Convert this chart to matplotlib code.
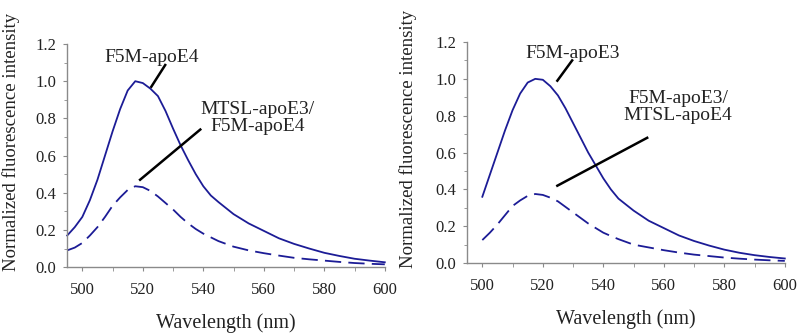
import matplotlib
matplotlib.use("Agg")
import matplotlib.pyplot as plt
from matplotlib.ticker import MultipleLocator

plt.rcParams['font.family'] = ['Liberation Serif', 'DejaVu Serif']

# left panel (F5M-apoE4)
wl_a = [495, 497.5, 500, 502.5, 505, 507.5, 510, 512.5, 515, 517.5, 520, 522.5, 525, 527.5, 530,
        532.5, 535, 537.5, 540, 542.5, 545, 550, 555, 560, 565, 570, 575, 580, 585, 590, 595, 600]
solid_a = [0.17, 0.215, 0.27, 0.36, 0.47, 0.60, 0.73, 0.85, 0.95, 1.00, 0.99, 0.96, 0.92, 0.84, 0.745,
           0.655, 0.575, 0.50, 0.435, 0.385, 0.35, 0.285, 0.235, 0.195, 0.155, 0.125, 0.10, 0.077, 0.06, 0.045, 0.035, 0.026]
dash_a = [0.09, 0.105, 0.13, 0.17, 0.215, 0.27, 0.33, 0.375, 0.415, 0.435, 0.43, 0.41, 0.38, 0.345, 0.31,
          0.27, 0.235, 0.205, 0.18, 0.16, 0.14, 0.11, 0.09, 0.075, 0.062, 0.05, 0.042, 0.035, 0.028, 0.022, 0.018, 0.015]

# right panel (F5M-apoE3)
wl_b = [500, 502.5, 505, 507.5, 510, 512.5, 515, 517.5, 520, 522.5, 525, 527.5, 530, 532.5, 535,
        537.5, 540, 542.5, 545, 550, 555, 560, 565, 570, 575, 580, 585, 590, 595, 600]
solid_b = [0.36, 0.48, 0.60, 0.72, 0.83, 0.92, 0.98, 1.00, 0.995, 0.96, 0.91, 0.84, 0.76, 0.68, 0.60,
           0.53, 0.46, 0.40, 0.35, 0.285, 0.23, 0.19, 0.15, 0.12, 0.095, 0.073, 0.056, 0.043, 0.033, 0.025]
dash_b = [0.125, 0.165, 0.21, 0.26, 0.31, 0.34, 0.365, 0.375, 0.37, 0.355, 0.335, 0.305, 0.275, 0.245, 0.215,
          0.19, 0.165, 0.147, 0.13, 0.10, 0.085, 0.07, 0.057, 0.046, 0.038, 0.03, 0.024, 0.019, 0.015, 0.012]

labels_a = ["F5M-apoE4", "MTSL-apoE3/\nF5M-apoE4"]
labels_b = ["F5M-apoE3", "F5M-apoE3/\nMTSL-apoE4"]

blue = "#1c1c96"
grey = "#8a8a8a"
txt = "#222222"

fig = plt.figure(figsize=(8, 3.36), dpi=100)
ax1 = fig.add_axes([0.084, 0.205, 0.397, 0.664])
ax2 = fig.add_axes([0.584, 0.217, 0.397, 0.658])


def style(ax, lx):
    ax.set_xlim(495, 600)
    ax.set_ylim(0, 1.2)
    ax.xaxis.set_major_locator(MultipleLocator(20))
    ax.xaxis.set_minor_locator(MultipleLocator(10))
    ax.yaxis.set_major_locator(MultipleLocator(0.2))
    ax.yaxis.set_minor_locator(MultipleLocator(0.1))
    ax.yaxis.set_major_formatter(plt.FormatStrFormatter('%.1f'))
    for s in ['top', 'right']:
        ax.spines[s].set_visible(False)
    for s in ['left', 'bottom']:
        ax.spines[s].set_color(grey)
        ax.spines[s].set_linewidth(1.0)
    ax.tick_params(which='both', colors=grey, labelcolor=txt, labelsize=12, length=3, direction='out')
    ax.tick_params(axis='y', which='minor', length=2)
    ax.tick_params(axis='x', pad=8)
    ax.tick_params(axis='y', pad=5)
    ax.set_xlabel("Wavelength (nm)", fontsize=14.5, color=txt, labelpad=11)
    ax.set_ylabel("Normalized fluorescence intensity", fontsize=13.5, color=txt)
    ax.yaxis.set_label_coords(lx, 0.56)


ax1.plot(wl_a, solid_a, color=blue, lw=1.3, clip_on=False)
ax1.plot(wl_a, dash_a, color=blue, lw=1.3, dashes=(9, 4), clip_on=False)
style(ax1, -0.15)
ax1.text(523, 1.13, labels_a[0], ha='center', va='center', fontsize=14, color=txt)
ax1.plot([527.4, 522.8], [1.087, 0.97], color='black', lw=1.8)
ax1.text(558, 0.80, labels_a[1], ha='center', va='center', fontsize=14, color=txt, linespacing=1.0)
ax1.plot([539, 519.1], [0.74, 0.47], color='black', lw=1.8)

ax2.plot(wl_b, solid_b, color=blue, lw=1.3, clip_on=False)
ax2.plot(wl_b, dash_b, color=blue, lw=1.3, dashes=(9, 4), clip_on=False)
style(ax2, -0.157)
ax2.text(529.7, 1.14, labels_b[0], ha='center', va='center', fontsize=14, color=txt)
ax2.plot([529.7, 524.8], [1.10, 0.99], color='black', lw=1.8)
ax2.text(564.7, 0.845, labels_b[1], ha='center', va='center', fontsize=14, color=txt, linespacing=1.0)
ax2.plot([554.5, 524.8], [0.68, 0.42], color='black', lw=1.8)

fig.savefig("out.png", dpi=100)
